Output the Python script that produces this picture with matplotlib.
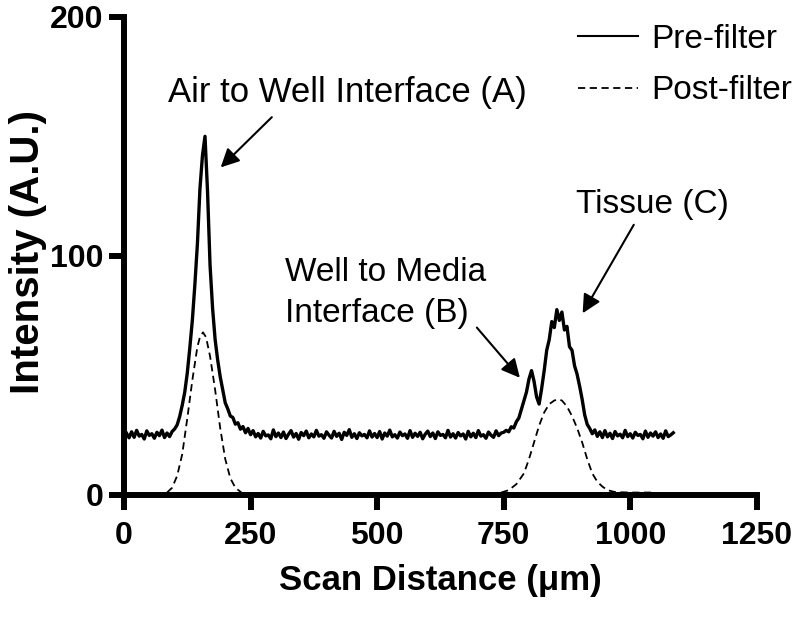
import matplotlib
matplotlib.use("Agg")
import matplotlib.pyplot as plt
from matplotlib.lines import Line2D
import numpy as np

plt.rcParams['font.family'] = ['Liberation Sans', 'DejaVu Sans']

# pre-filter trace, read every 5 um from 5 to 1085 um
pre_x = np.arange(5, 1090, 5)
pre_y = [
    25.8, 23.9, 26.4, 24.1, 27.0, 24.6, 25.3, 23.4, 26.8, 24.9,
    25.6, 23.7, 26.2, 24.8, 27.1, 24.0, 25.9, 24.4, 26.5, 27.6,
    29.3, 32.8, 37.5, 43.0, 51.0, 61.5, 73.0, 88.0, 105.0, 128.0,
    142.0, 150.0, 127.0, 96.0, 78.0, 65.0, 56.5, 49.5, 44.0, 38.5,
    36.0, 33.0, 32.4, 29.6, 30.2, 27.5, 28.6, 26.0, 27.8, 25.2,
    26.9, 24.3, 25.7, 23.8, 26.6, 24.7, 25.1, 23.5, 27.2, 24.4,
    25.9, 24.0, 26.3, 23.6, 25.4, 26.9, 24.2, 25.7, 23.3, 26.1,
    24.8, 26.7, 23.9, 25.5, 24.3, 27.0, 24.6, 25.2, 23.7, 26.4,
    25.0, 23.8, 26.6, 24.5, 25.8, 23.2, 26.2, 24.9, 27.3, 24.1,
    25.6, 23.6, 26.0, 24.7, 25.3, 23.9, 26.8, 24.2, 25.7, 24.0,
    26.5, 23.4, 25.9, 24.6, 27.1, 24.3, 25.2, 23.8, 26.3, 24.8,
    25.5, 23.7, 26.9, 24.1, 25.8, 24.5, 26.2, 23.5, 25.4, 26.7,
    24.4, 25.9, 23.6, 26.4, 24.9, 25.3, 23.9, 27.0, 24.2, 25.6,
    23.8, 26.1, 24.7, 25.5, 23.4, 26.6, 24.3, 25.8, 24.0, 26.9,
    24.6, 25.2, 23.7, 26.3, 25.0, 24.1, 26.8, 24.8, 25.9, 26.2,
    27.0, 26.4, 28.5, 28.0, 30.6, 32.2, 35.8, 39.5, 43.0, 48.5,
    52.0, 47.5, 41.0, 38.0, 44.5, 52.0, 60.5, 65.0, 72.5, 70.0,
    77.5, 73.0, 76.5, 69.0, 70.5, 62.0, 60.5, 54.0, 50.5, 45.5,
    40.0, 33.5, 29.5, 27.8, 25.6, 27.2, 24.5, 26.4, 24.0, 26.9,
    24.3, 25.8, 23.6, 26.5, 24.7, 25.4, 23.9, 27.0, 24.4, 25.6,
    23.8, 26.2, 24.9, 25.3, 23.5, 26.7, 24.1, 25.9, 24.6, 26.4,
    24.0, 25.5, 23.7, 26.8, 24.4, 25.1, 26.0,
]

# post-filter trace: two peaks, nothing drawn in between
post_a_x = [85, 95, 105, 115, 125, 135, 145, 150, 156, 162, 170, 180, 190, 200, 210, 220, 232]
post_a_y = [1, 3, 8, 17, 32, 48, 62, 66, 68, 66, 58, 44, 28, 15, 7, 3, 1]
post_c_x = [745, 760, 775, 790, 800, 810, 820, 830, 840, 850, 858, 865, 875, 885,
            895, 905, 915, 925, 935, 945, 955, 970, 1000, 1050]
post_c_y = [1, 2, 4.5, 9, 15, 22, 29, 34.5, 38, 39.5, 40, 39.5, 37, 33,
            28, 22, 15, 9, 5.5, 3.5, 2, 1.2, 1.0, 1.0]

x_ticks = [0, 250, 500, 750, 1000, 1250]
y_ticks = [0, 100, 200]

fig = plt.figure(figsize=(8, 6.21), dpi=100)
ax = fig.add_axes([0.155, 0.203, 0.791, 0.770])

ax.plot(pre_x, pre_y, color='black', lw=2.4)
ax.plot(post_a_x, post_a_y, color='black', lw=1.3, dashes=(4, 2.5))
ax.plot(post_c_x, post_c_y, color='black', lw=1.3, dashes=(4, 2.5))

ax.set_xlim(0, 1250)
ax.set_ylim(0, 200)
ax.set_xticks(x_ticks)
ax.set_yticks(y_ticks)
for s in ['top', 'right']:
    ax.spines[s].set_visible(False)
for s in ['left', 'bottom']:
    ax.spines[s].set_linewidth(4.3)
    ax.spines[s].set_capstyle('projecting')
ax.tick_params(direction='out', length=11, width=4.3, pad=4, labelsize=23)
ax.tick_params(axis='x', pad=8)
for lab in ax.get_xticklabels() + ax.get_yticklabels():
    lab.set_fontweight('bold')

ax.set_xlabel('Scan Distance (μm)', fontsize=25, fontweight='bold', va='top')
ax.xaxis.set_label_coords(0.50, -0.145)
ax.set_ylabel('Intensity (A.U.)', fontsize=29, fontweight='bold')
ax.yaxis.set_label_coords(-0.122, 0.508)

arrow = dict(arrowstyle='-|>', color='black', lw=1.5, mutation_scale=28, shrinkA=0, shrinkB=0)
ax.text(442, 164.4, 'Air to Well Interface (A)', fontsize=25, ha='center', va='baseline')
ax.annotate('', xy=(191, 137), xytext=(292, 158), arrowprops=arrow)
ax.text(318, 99.5, 'Well to Media\nInterface (B)', fontsize=24, ha='left', va='top', linespacing=1.4)
ax.annotate('', xy=(782, 49), xytext=(697, 70), arrowprops=arrow)
ax.text(1043, 118, 'Tissue (C)', fontsize=24, ha='center', va='baseline')
ax.annotate('', xy=(906, 76), xytext=(1007, 113), arrowprops=arrow)

handles = [Line2D([], [], color='black', lw=1.5),
           Line2D([], [], color='black', lw=1.3, dashes=(4, 2.5))]
ax.legend(handles, ['Pre-filter', 'Post-filter'], loc='upper right',
          bbox_to_anchor=(0.99, 0.962), bbox_transform=fig.transFigure,
          frameon=False, fontsize=24, handlelength=1.8, handletextpad=0.4,
          labelspacing=0.62, borderpad=0, borderaxespad=0)

fig.savefig('out.png', dpi=100)
